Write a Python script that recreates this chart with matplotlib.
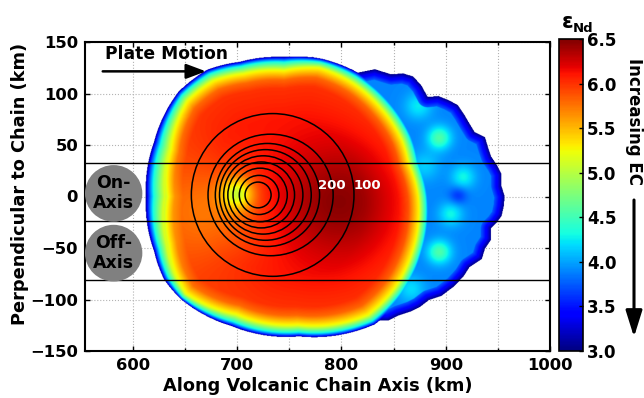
import numpy as np
import matplotlib
matplotlib.use("Agg")
import matplotlib.pyplot as plt
from matplotlib.patches import Ellipse, FancyArrowPatch
from matplotlib.path import Path

plt.rcParams['font.family'] = ['DejaVu Sans']
plt.rcParams['font.weight'] = 'bold'

# ---------------- data ----------------
x_range = [554, 1000]
y_range = [-150, 150]
x_ticks = [600, 700, 800, 900, 1000]
y_ticks = [-150, -100, -50, 0, 50, 100, 150]
cbar_ticks = [3.0, 3.5, 4.0, 4.5, 5.0, 5.5, 6.0, 6.5]

# main plume body (centre, yellow ring radius and outer edge radius by angle)
main_cx, main_cy = 745, 0
ring_theta    = [-180, -157, -145, -135, -112, -84, -55, -40, -25, 0, 15, 26, 43, 59, 75, 90, 108, 121, 135, 157, 180]
ring_yellow_r = [114, 122, 129, 134, 124, 126, 141, 139, 135, 129, 124, 126, 127, 129, 130, 123, 126, 132, 132, 119, 114]
ring_edge_r   = [133, 136, 141, 141, 136, 137, 152, 150, 146, 140, 136, 138, 139, 140, 139, 136, 138, 144, 144, 136, 133]
inner_rho = [0.0, 0.6, 0.85, 0.92, 0.96, 1.0]
inner_eps = [6.15, 6.1, 6.0, 5.8, 5.5, 5.2]
band_t   = [0.0, 0.3, 0.6, 0.85, 1.0]
band_eps = [5.2, 4.75, 4.3, 3.6, 3.0]

# local anomalies inside the main body
anom_x   = [800, 680, 700]
anom_y   = [-5, -15, 3]
anom_amp = [0.35, -0.35, -0.8]
anom_w   = [38, 35, 11]

# low-eps tail on the down-stream side (outer outline)
tail_x = [772, 795, 812, 832, 848, 859, 869, 877, 883, 893, 903, 912, 918, 922, 928, 938, 941, 944, 950,
          954, 954, 957, 956, 954, 949, 944, 944, 938, 935, 923, 918, 909, 896, 884, 875, 867, 855, 845,
          835, 826, 812, 800]
tail_y = [136, 129, 120, 124, 119, 120, 117, 108, 97, 98, 94, 89, 80, 73, 63, 58, 48, 39, 30,
          22, 10, 0, -10, -19, -26, -31, -42, -51, -61, -69, -77, -87, -97, -101, -108, -112, -116, -121,
          -121, -118, -124, -131]
tail_close_x = [790, 805, 790]
tail_close_y = [-90, 0, 90]
tail_base_eps = 3.9
fringe_d   = [0, 4, 10, 18]
fringe_eps = [3.0, 3.35, 3.75, 9.0]
spot_x   = [894, 874, 894, 917, 912, 905, 867, 880]
spot_y   = [57, 88, -54, 19, 1, -17, -90, 30]
spot_amp = [0.65, 0.35, 0.65, 0.4, -0.3, 0.4, 0.3, 0.25]
spot_w   = [8, 9, 8, 8, 6, 8, 9, 10]

# concentric contours (levels 100 ... 900)
circle_level = [100, 200, 300, 400, 500, 600, 700, 800, 900]
circle_cx = [734, 732, 729, 727, 725, 723, 722, 721, 720]
circle_cy = [1.5, 1.5, 1.5, 1.5, 1.5, 1.5, 1.5, 1.5, 1.5]
circle_rx = [78, 60, 50, 44, 38, 32, 26, 19, 12.5]
circle_ry = [79, 59, 50, 44, 38, 32, 26, 19, 12.5]
label_levels = ['200', '100']
label_x = [791, 825]
label_y = [11, 11]

profile_lines_y = [33, -24, -81]
region_names = ['On-\nAxis', 'Off-\nAxis']
region_x = [581.5, 581.5]
region_y = [3, -55]
region_r = [27.5, 27.5]

# ---------------- field ----------------
gx = np.arange(x_range[0], x_range[1] + 0.5, 0.5)
gy = np.arange(y_range[0], y_range[1] + 0.5, 0.5)
X, Y = np.meshgrid(gx, gy)

dx, dy = X - main_cx, Y - main_cy
r = np.hypot(dx, dy)
th = np.degrees(np.arctan2(dy, dx))
Ry = np.interp(th, ring_theta, ring_yellow_r)
Re = np.interp(th, ring_theta, ring_edge_r)
main = np.where(r <= Ry, np.interp(r / Ry, inner_rho, inner_eps),
                np.interp((r - Ry) / (Re - Ry), band_t, band_eps))
for ax_, ay_, aa_, aw_ in zip(anom_x, anom_y, anom_amp, anom_w):
    main = main + aa_ * np.exp(-((X - ax_) ** 2 + (Y - ay_) ** 2) / (2 * aw_ ** 2)) * (r <= Ry)
main = np.where(r <= Re, main, -np.inf)

poly = np.column_stack([tail_x + tail_close_x, tail_y + tail_close_y])
inside_tail = Path(poly).contains_points(np.column_stack([X.ravel(), Y.ravel()])).reshape(X.shape)
px = np.array(tail_x, float); py = np.array(tail_y, float)
dmin = np.full(X.shape, np.inf)
for i in range(len(px) - 1):
    ax0, ay0, bx, by = px[i], py[i], px[i + 1], py[i + 1]
    vx, vy = bx - ax0, by - ay0
    t = np.clip(((X - ax0) * vx + (Y - ay0) * vy) / (vx * vx + vy * vy), 0, 1)
    d = np.hypot(X - (ax0 + t * vx), Y - (ay0 + t * vy))
    dmin = np.minimum(dmin, d)
tail = np.full(X.shape, tail_base_eps)
for sx, sy, sa, sw in zip(spot_x, spot_y, spot_amp, spot_w):
    tail = tail + sa * np.exp(-((X - sx) ** 2 + (Y - sy) ** 2) / (2 * sw ** 2))
tail = np.minimum(tail, np.interp(dmin, fringe_d, fringe_eps))
tail = np.where(inside_tail, tail, -np.inf)

field = np.maximum(main, tail)
field = np.where(np.isfinite(field), np.clip(field, 3.0, 6.5), np.nan)

# ---------------- figure ----------------
fig = plt.figure(figsize=(6.44, 3.98), dpi=100)
ax = fig.add_axes([85 / 644, 47 / 398, 465 / 644, 309 / 398])
cax = fig.add_axes([559 / 644, 47 / 398, 24 / 644, 312 / 398])

cmap = plt.get_cmap('jet').copy()
cmap.set_bad((1, 1, 1, 0))
im = ax.imshow(np.ma.masked_invalid(field), origin='lower', cmap=cmap, vmin=3.0, vmax=6.5,
               extent=[gx[0], gx[-1], gy[0], gy[-1]], aspect='auto', interpolation='bilinear', zorder=1)

ax.set_xlim(x_range)
ax.set_ylim(y_range)
ax.set_xticks(x_ticks)
ax.set_xticks(np.arange(600, 1000, 50), minor=True)
ax.set_yticks(y_ticks)
ax.grid(True, which='both', linestyle=':', color='0.7', linewidth=0.8)
ax.set_axisbelow(True)
ax.tick_params(which='both', direction='in', top=True, right=True, length=3.5, width=1,
               labelsize=11.8, pad=5)
ax.tick_params(which='minor', length=2.5)
for lab in ax.get_xticklabels() + ax.get_yticklabels():
    lab.set_fontweight('bold')
for s in ax.spines.values():
    s.set_linewidth(1.5)

for yl in profile_lines_y:
    ax.axhline(yl, color='black', linewidth=1.0, zorder=4)

for cx, cy, rx, ry in zip(circle_cx, circle_cy, circle_rx, circle_ry):
    ax.add_patch(Ellipse((cx, cy), 2 * rx, 2 * ry, fill=False, edgecolor='black', linewidth=1.1, zorder=5))
for t_, lx, ly in zip(label_levels, label_x, label_y):
    ax.text(lx, ly, t_, color='white', fontsize=9.5, fontweight='bold', ha='center', va='center', zorder=6)

for name, rx_, ry_, rr in zip(region_names, region_x, region_y, region_r):
    ax.add_patch(Ellipse((rx_, ry_), 2 * rr, 2 * rr, facecolor='#808080', edgecolor='none', zorder=5))
    ax.text(rx_, ry_, name, fontsize=12.5, fontweight='bold', ha='center', va='center',
            linespacing=1.15, zorder=6)

ax.text(573, 138, 'Plate Motion', fontsize=12.3, fontweight='bold', ha='left', va='center', zorder=6)
ax.annotate('', xy=(670, 121.5), xytext=(571, 121.5),
            arrowprops=dict(arrowstyle='-|>,head_length=1.2,head_width=0.45', color='black', lw=1.8,
                            shrinkA=0, shrinkB=0), zorder=6)

ax.set_xlabel('Along Volcanic Chain Axis (km)', fontsize=12.8, fontweight='bold', labelpad=3)
fig.text(20 / 644, 1 - 184 / 398, 'Perpendicular to Chain (km)', rotation=90, fontsize=12.8,
         fontweight='bold', ha='center', va='center')

cb = fig.colorbar(im, cax=cax, ticks=cbar_ticks)
cb.ax.set_yticklabels(['%.1f' % v for v in cbar_ticks])
cb.ax.tick_params(direction='in', length=3, width=1, labelsize=12, pad=3, right=True)
for lab in cb.ax.get_yticklabels():
    lab.set_fontweight('bold')
cb.outline.set_linewidth(1.2)

fig.text(562 / 644, 1 - 22 / 398, 'ε', fontsize=15, fontweight='bold', ha='left', va='center')
fig.text(573 / 644, 1 - 28 / 398, 'Nd', fontsize=9.5, fontweight='bold', ha='left', va='center')
fig.text(634 / 644, 1 - 122 / 398, 'Increasing EC', rotation=-90, fontsize=12, fontweight='bold',
         ha='center', va='center')
fig.add_artist(FancyArrowPatch((634 / 644, 1 - 200 / 398), (634 / 644, 1 - 337 / 398),
               transform=fig.transFigure, arrowstyle='-|>,head_length=16,head_width=5',
               mutation_scale=1, color='black', linewidth=2.2, shrinkA=0, shrinkB=0))

fig.savefig('out.png', dpi=100)
